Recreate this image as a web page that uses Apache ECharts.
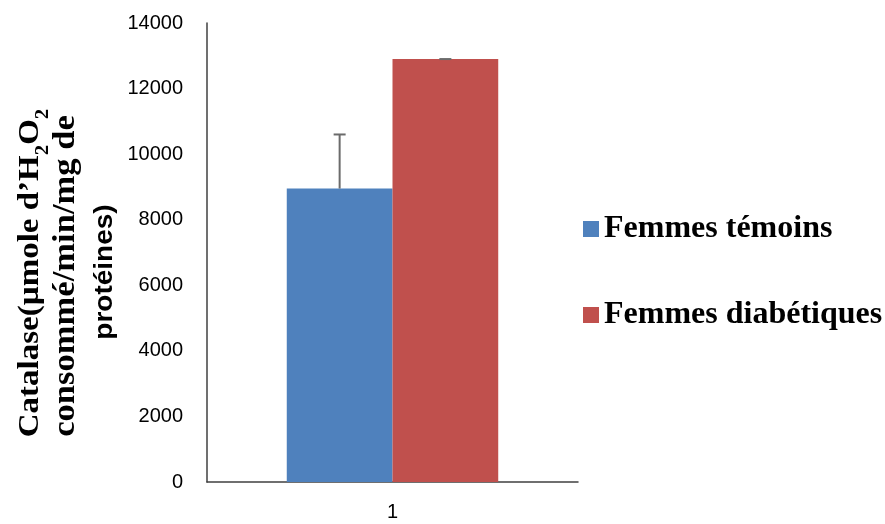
<!DOCTYPE html>
<html>
<head>
<meta charset="utf-8">
<script src="https://cdn.jsdelivr.net/npm/echarts@6/dist/echarts.min.js"></script>
<style>html,body{margin:0;padding:0;background:#fff}#c{width:885px;height:524px}</style>
</head>
<body>
<div id="c"></div>
<script>
const categories = ['1'];
const seriesNames = ['Femmes témoins', 'Femmes diabétiques'];
const values = [8950, 12900];
const errors = [1650, 0];
const colors = ['#4F81BD', '#C0504D'];
const yTicks = {min: 0, max: 14000, interval: 2000};

const chart = echarts.init(document.getElementById('c'));
const catGap = 0.43;

const errorData = values.map((v, i) => [0, v, v + errors[i], i]);

chart.setOption({
  animation: false,
  grid: {left: 207, right: 307, top: 23, bottom: 42},
  legend: {
    orient: 'vertical', left: 578, top: 208, itemGap: 54,
    icon: 'rect', itemWidth: 16, itemHeight: 16,
    data: seriesNames,
    textStyle: {fontFamily: 'Liberation Serif', fontWeight: 'bold', fontSize: 32, color: '#000'}
  },
  xAxis: {
    type: 'category', data: categories,
    axisLine: {lineStyle: {color: '#404040', width: 1.5}},
    axisTick: {show: false},
    axisLabel: {fontFamily: 'Liberation Sans', fontSize: 20, color: '#000', margin: 20}
  },
  yAxis: {
    type: 'value', min: yTicks.min, max: yTicks.max, interval: yTicks.interval,
    axisLine: {show: true, lineStyle: {color: '#404040', width: 1.5}},
    axisTick: {show: false},
    splitLine: {show: false},
    axisLabel: {fontFamily: 'Liberation Sans', fontSize: 20, color: '#000', margin: 24,
      formatter: v => String(v)}
  },
  series: [
    {name: seriesNames[0], type: 'bar', data: [values[0]], itemStyle: {color: colors[0]}, barGap: '0%', barCategoryGap: (catGap*100)+'%'},
    {name: seriesNames[1], type: 'bar', data: [values[1]], itemStyle: {color: colors[1]}, barGap: '0%', barCategoryGap: (catGap*100)+'%'},
    {
      type: 'custom', data: errorData, z: 10,
      renderItem: function (params, api) {
        const band = api.size([1, 0])[0];
        const bw = band * (1 - catGap) / 2;
        const idx = api.value(3);
        const c = api.coord([api.value(0), api.value(1)]);
        const t = api.coord([api.value(0), api.value(2)]);
        const x = c[0] + (idx === 0 ? -bw / 2 : bw / 2);
        const half = 6;
        const st = {stroke: '#6b6b6b', lineWidth: 2};
        return {type: 'group', children: [
          {type: 'line', shape: {x1: x, y1: c[1], x2: x, y2: t[1]}, style: st},
          {type: 'line', shape: {x1: x - half, y1: t[1], x2: x + half, y2: t[1]}, style: st}
        ]};
      }
    }
  ],
  graphic: [
    {type: 'text', x: 30, y: 273, rotation: Math.PI / 2, scaleX: 1.1,
      style: {
        text: '{a|Catalase(µmole d’H}{s|2}{a|O}{s|2}',
        align: 'center', verticalAlign: 'middle',
        rich: {
          a: {fontFamily: 'Liberation Serif', fontWeight: 'bold', fontSize: 30, fill: '#000'},
          s: {fontFamily: 'Liberation Serif', fontWeight: 'bold', fontSize: 19, fill: '#000', verticalAlign: 'bottom', padding: [0, 0, -8, 0]}
        }
      }
    },
    {type: 'text', x: 66, y: 276, rotation: Math.PI / 2, scaleX: 1.08,
      style: {text: 'consommé/min/mg de', align: 'center', verticalAlign: 'middle',
        fontFamily: 'Liberation Serif', fontWeight: 'bold', fontSize: 32, fill: '#000'}},
    {type: 'text', x: 105, y: 272, rotation: Math.PI / 2, scaleX: 1.12,
      style: {text: 'protéines)', align: 'center', verticalAlign: 'middle',
        fontFamily: 'Liberation Sans', fontWeight: 'bold', fontSize: 25, fill: '#000'}}
  ]
});
</script>
</body>
</html>
